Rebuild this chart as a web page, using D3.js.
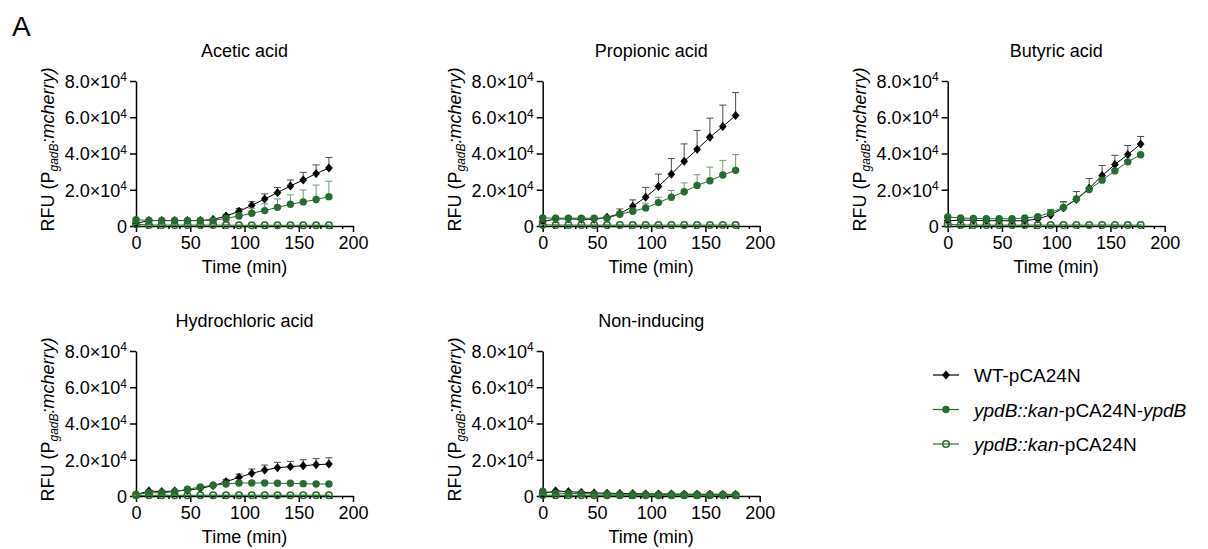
<!DOCTYPE html>
<html>
<head>
<meta charset="utf-8">
<script src="https://cdn.jsdelivr.net/npm/d3@7"></script>
<style>
  html, body { margin: 0; padding: 0; background: #fff; }
  svg { display: block; font-family: "Liberation Sans", Arial, sans-serif; }
</style>
</head>
<body>
<svg id="chart" width="1208" height="549"></svg>
<script>
// Sampling times (min)
const times = [0, 11.9, 23.7, 35.6, 47.4, 59.3, 71.1, 83.0, 94.9, 106.7, 118.6, 130.4, 142.3, 154.1, 166.0, 177.8];

// Axis ticks
const xTicks = [0, 50, 100, 150, 200];
const xMinorTicks = [10, 20, 30, 40, 60, 70, 80, 90, 110, 120, 130, 140, 160, 170, 180, 190];
const yTicks = [0, 20000, 40000, 60000, 80000];
const yTickMantissa = ["0", "2.0×10", "4.0×10", "6.0×10", "8.0×10"];
const yTickExponent = ["", "4", "4", "4", "4"];

// Panel titles
const panelTitles = ["Acetic acid", "Propionic acid", "Butyric acid", "Hydrochloric acid", "Non-inducing"];

// Acetic acid (mean, SD)
const aceticWT      = [1500, 3000, 3000, 3000, 3000, 3000, 3600, 5500, 8100, 11400, 14900, 18400, 22100, 25400, 28900, 32000];
const aceticWTsd    = [300, 300, 300, 300, 300, 400, 500, 900, 1500, 2000, 2800, 2800, 3300, 4200, 4800, 5800];
const aceticComp    = [3500, 3100, 3000, 3000, 3000, 3000, 3100, 4200, 5500, 7000, 8500, 10300, 12000, 13300, 14600, 16200];
const aceticCompSd  = [300, 300, 300, 300, 300, 300, 400, 700, 1500, 2800, 3700, 4600, 5200, 6600, 8000, 8500];
const aceticKO      = [900, 600, 500, 500, 500, 500, 500, 500, 400, 400, 400, 400, 400, 400, 400, 400];
const aceticKOsd    = [100, 100, 100, 100, 100, 100, 100, 100, 100, 100, 100, 100, 100, 100, 100, 100];

// Propionic acid
const propWT        = [2400, 3900, 3900, 3700, 3700, 4800, 6800, 10900, 15900, 21800, 28600, 35700, 42300, 49000, 54900, 61000];
const propWTsd      = [300, 300, 300, 300, 300, 500, 2600, 3500, 5400, 6800, 8600, 9600, 10400, 10500, 11800, 12600];
const propComp      = [4500, 4300, 4300, 4300, 4300, 4300, 6500, 8100, 10000, 12900, 15900, 18900, 22400, 25000, 28100, 30700];
const propCompSd    = [300, 300, 300, 300, 300, 300, 1500, 1700, 2600, 3000, 3700, 4900, 5900, 7500, 8100, 8700];
const propKO        = [700, 500, 500, 500, 500, 500, 500, 500, 500, 500, 500, 500, 500, 500, 500, 500];
const propKOsd      = [100, 100, 100, 100, 100, 100, 100, 100, 100, 100, 100, 100, 100, 100, 100, 100];

// Butyric acid
const butWT         = [2800, 3300, 3100, 2900, 2900, 2900, 2900, 3900, 6100, 10000, 14700, 20800, 27800, 33900, 39400, 45200];
const butWTsd       = [300, 300, 300, 300, 300, 300, 300, 500, 2700, 3500, 4300, 5400, 5600, 5100, 5000, 4200];
const butComp       = [5000, 4400, 4200, 4000, 4000, 4000, 4400, 5200, 7400, 10300, 14900, 20100, 25300, 30400, 35400, 39300];
const butCompSd     = [300, 300, 300, 300, 300, 300, 300, 500, 1800, 2500, 1000, 1000, 1000, 800, 700, 600];
const butKO         = [1000, 600, 500, 500, 500, 500, 500, 500, 500, 500, 500, 500, 500, 500, 500, 500];
const butKOsd       = [100, 100, 100, 100, 100, 100, 100, 100, 100, 100, 100, 100, 100, 100, 100, 100];

// Hydrochloric acid
const hclWT         = [700, 2800, 2400, 2800, 3100, 4200, 5700, 7900, 10300, 12500, 14300, 15600, 16200, 16700, 17300, 17600];
const hclWTsd       = [200, 300, 300, 300, 300, 300, 500, 1300, 1800, 2400, 2800, 3000, 2900, 3300, 3300, 3500];
const hclComp       = [800, 1800, 1800, 2400, 3700, 5000, 5900, 6600, 7200, 7200, 7200, 7000, 7000, 6800, 6600, 6600];
const hclCompSd     = [200, 300, 300, 300, 300, 400, 500, 600, 700, 500, 400, 400, 400, 400, 400, 400];
const hclKO         = [400, 400, 400, 400, 400, 400, 400, 400, 400, 400, 400, 400, 400, 400, 400, 400];
const hclKOsd       = [100, 100, 100, 100, 100, 100, 100, 100, 100, 100, 100, 100, 100, 100, 100, 100];

// Non-inducing
const nonWT         = [1300, 2800, 2400, 2000, 1700, 1500, 1400, 1300, 1200, 1100, 1100, 1000, 1000, 1000, 900, 900];
const nonWTsd       = [200, 300, 300, 300, 300, 200, 200, 200, 200, 200, 200, 200, 200, 200, 200, 200];
const nonComp       = [2600, 1600, 1400, 1300, 1200, 1100, 1000, 1000, 900, 900, 900, 800, 800, 800, 800, 700];
const nonCompSd     = [300, 200, 200, 200, 200, 200, 200, 200, 200, 200, 200, 200, 200, 200, 200, 200];
const nonKO         = [500, 400, 400, 400, 400, 400, 400, 400, 400, 400, 400, 400, 400, 400, 400, 400];
const nonKOsd       = [100, 100, 100, 100, 100, 100, 100, 100, 100, 100, 100, 100, 100, 100, 100, 100];

const panelData = [
  [[aceticWT, aceticWTsd], [aceticComp, aceticCompSd], [aceticKO, aceticKOsd]],
  [[propWT, propWTsd], [propComp, propCompSd], [propKO, propKOsd]],
  [[butWT, butWTsd], [butComp, butCompSd], [butKO, butKOsd]],
  [[hclWT, hclWTsd], [hclComp, hclCompSd], [hclKO, hclKOsd]],
  [[nonWT, nonWTsd], [nonComp, nonCompSd], [nonKO, nonKOsd]]
];

// Series styling
const GREEN = "#276b31";
const seriesStyle = [
  { line: "#000", err: "#4d4d4d", marker: "diamond", fill: "#000", stroke: "#000" },
  { line: GREEN, err: "#6f9c71", marker: "circle", fill: GREEN, stroke: GREEN },
  { line: GREEN, err: "#6f9c71", marker: "open", fill: "none", stroke: GREEN }
];

// Panel placement (plot-area origin)
const plotW = 217, plotH = 145;
const panelPos = [
  { x: 136, y: 81 }, { x: 542.7, y: 81 }, { x: 947.7, y: 81 },
  { x: 136, y: 351 }, { x: 542.7, y: 351 }
];

const svg = d3.select("#chart");
const x = d3.scaleLinear().domain([0, 200]).range([0, plotW]);
const y = d3.scaleLinear().domain([0, 80000]).range([plotH, 0]);

svg.append("text").attr("x", 12).attr("y", 36)
  .attr("font-size", 28).text("A");

function drawMarker(g, type, style) {
  if (type === "diamond") {
    g.append("path").attr("d", "M0,-4.2L3.5,0L0,4.2L-3.5,0Z")
      .attr("fill", style.fill).attr("stroke", style.stroke).attr("stroke-width", 0.6);
  } else if (type === "circle") {
    g.append("circle").attr("r", 3.7).attr("fill", style.fill);
  } else {
    g.append("circle").attr("r", 3.3).attr("fill", "none")
      .attr("stroke", style.stroke).attr("stroke-width", 1.4);
  }
}

panelPos.forEach((pos, pi) => {
  const g = svg.append("g").attr("transform", `translate(${pos.x},${pos.y})`);

  // Title
  g.append("text").attr("x", plotW / 2).attr("y", -24)
    .attr("text-anchor", "middle").attr("font-size", 18).text(panelTitles[pi]);

  // Y axis
  const yAxis = g.append("g").call(
    d3.axisLeft(y).tickValues(yTicks).tickSize(6).tickSizeOuter(0).tickFormat(() => "")
  );
  yAxis.selectAll(".tick").each(function (d, i) {
    const t = d3.select(this).append("text")
      .attr("x", -9).attr("dy", "0.36em").attr("text-anchor", "end")
      .attr("fill", "#000").attr("font-size", 18)
      .attr("font-family", "'Liberation Sans', Arial, sans-serif");
    t.append("tspan").text(yTickMantissa[i]);
    if (yTickExponent[i]) {
      t.append("tspan").attr("font-size", 12).attr("dy", "-0.55em").text(yTickExponent[i]);
    }
  });

  // X axis (major + minor ticks)
  const xAxis = g.append("g").attr("transform", `translate(0,${plotH})`).call(
    d3.axisBottom(x).tickValues(xTicks).tickSize(6).tickSizeOuter(0).tickPadding(4)
  );
  xAxis.selectAll("text").attr("font-size", 18).attr("fill", "#000")
    .attr("font-family", "'Liberation Sans', Arial, sans-serif");
  const xMinor = g.append("g").attr("transform", `translate(0,${plotH})`).call(
    d3.axisBottom(x).tickValues(xMinorTicks).tickSize(3).tickSizeOuter(0).tickFormat(() => "")
  );
  xMinor.select(".domain").remove();

  [yAxis, xAxis, xMinor].forEach(ax => {
    ax.selectAll("path, line").attr("stroke", "#000").attr("stroke-width", 1.5);
  });

  // Axis titles
  g.append("text").attr("x", plotW / 2).attr("y", plotH + 47)
    .attr("text-anchor", "middle").attr("font-size", 18).text("Time (min)");

  const yl = g.append("text")
    .attr("transform", `translate(-82,${plotH / 2 - 4}) rotate(-90)`)
    .attr("text-anchor", "middle").attr("font-size", 18);
  yl.append("tspan").text("RFU (P");
  yl.append("tspan").attr("font-size", 12).attr("font-style", "italic").attr("dy", 4).text("gadB");
  yl.append("tspan").attr("font-style", "italic").attr("dy", -4).text(":mcherry)");

  // Data series
  panelData[pi].forEach(([mean, sd], si) => {
    const st = seriesStyle[si];
    const pts = times.map((t, i) => ({ t, v: mean[i], s: sd[i] }));
    const sg = g.append("g");

    // Upward SD error bars
    const eb = sg.append("g").attr("stroke", st.err).attr("stroke-width", 1);
    pts.forEach(p => {
      const cx = x(p.t), y0 = y(p.v), y1 = y(p.v + p.s);
      eb.append("line").attr("x1", cx).attr("x2", cx).attr("y1", y0).attr("y2", y1);
      eb.append("line").attr("x1", cx - 3.5).attr("x2", cx + 3.5).attr("y1", y1).attr("y2", y1);
    });

    sg.append("path").datum(pts)
      .attr("d", d3.line().x(p => x(p.t)).y(p => y(p.v)))
      .attr("fill", "none").attr("stroke", st.line).attr("stroke-width", 1);

    pts.forEach(p => {
      const mg = sg.append("g").attr("transform", `translate(${x(p.t)},${y(p.v)})`);
      drawMarker(mg, st.marker, st);
    });
  });
});

// Legend
const legendItems = [
  [{ t: "WT-pCA24N", i: false }],
  [{ t: "ypdB::kan", i: true }, { t: "-pCA24N-", i: false }, { t: "ypdB", i: true }],
  [{ t: "ypdB::kan", i: true }, { t: "-pCA24N", i: false }]
];
const legend = svg.append("g").attr("transform", "translate(933,375)");
legendItems.forEach((parts, i) => {
  const st = seriesStyle[i];
  const row = legend.append("g").attr("transform", `translate(0,${i * 34.5})`);
  row.append("line").attr("x1", 0).attr("x2", 26).attr("y1", 0).attr("y2", 0)
    .attr("stroke", st.line).attr("stroke-width", 1.2);
  drawMarker(row.append("g").attr("transform", "translate(13,0)"), st.marker, st);
  const tx = row.append("text").attr("x", 41).attr("y", 7).attr("font-size", 19);
  parts.forEach(p => tx.append("tspan").attr("font-style", p.i ? "italic" : null).text(p.t));
});
</script>
</body>
</html>
